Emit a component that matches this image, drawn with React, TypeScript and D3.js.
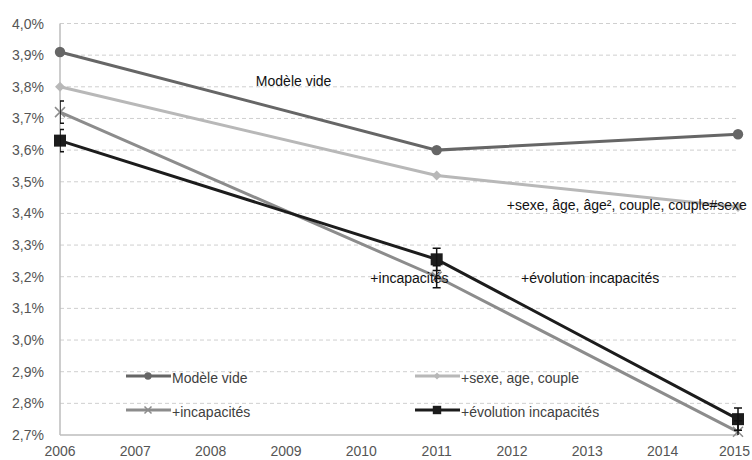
import React from "react";
import * as d3 from "d3";

const years = [2006, 2011, 2015];
const yTicks = [2.7, 2.8, 2.9, 3.0, 3.1, 3.2, 3.3, 3.4, 3.5, 3.6, 3.7, 3.8, 3.9, 4.0];
const xTicks = [2006, 2007, 2008, 2009, 2010, 2011, 2012, 2013, 2014, 2015];
const seriesNames = ["Modèle vide", "+sexe, age, couple", "+incapacités", "+évolution incapacités"];
const videValues = [3.91, 3.6, 3.65];
const sexeValues = [3.8, 3.52, 3.42];
const incapValues = [3.72, 3.2, 2.71];
const evolValues = [3.63, 3.255, 2.75];
const incapErr = [0.035, 0.035, 0.035];
const evolErr = [0.035, 0.035, 0.035];
const annotations = [
  { text: "Modèle vide", year: 2008.6, value: 3.802 },
  { text: "+sexe, âge, âge², couple, couple#sexe", year: 2011.93, value: 3.411 },
  { text: "+incapacités", year: 2010.12, value: 3.18 },
  { text: "+évolution incapacités", year: 2012.12, value: 3.18 },
];

const W = 752, H = 460;
const x = d3.scaleLinear().domain([2006, 2015]).range([60, 738]);
const y = d3.scaleLinear().domain([2.7, 4.0]).range([435, 23.5]);

const colors = ["#666666", "#b8b8b8", "#8c8c8c", "#1c1c1c"];
const font = "'Liberation Sans', Arial, sans-serif";

function Marker({ kind, cx, cy, color, s = 1 }: { kind: number; cx: number; cy: number; color: string; s?: number }) {
  if (kind === 0) return <circle cx={cx} cy={cy} r={5.2 * s} fill={color} />;
  if (kind === 1) {
    const r = 5 * s;
    return <path d={`M${cx},${cy - r}L${cx + r},${cy}L${cx},${cy + r}L${cx - r},${cy}Z`} fill={color} />;
  }
  if (kind === 2) {
    const r = 5 * s;
    return (
      <path d={`M${cx - r},${cy - r}L${cx + r},${cy + r}M${cx + r},${cy - r}L${cx - r},${cy + r}`} stroke={color} strokeWidth={1.5} fill="none" />
    );
  }
  const h = 6 * s;
  return <rect x={cx - h} y={cy - h} width={2 * h} height={2 * h} fill={color} />;
}

export default function App() {
  const line = d3
    .line<number>()
    .x((_, i) => x(years[i]))
    .y((d) => y(d));
  const series = [videValues, sexeValues, incapValues, evolValues];
  const errSeries = [
    { vals: incapValues, err: incapErr },
    { vals: evolValues, err: evolErr },
  ];
  const legendPos = [
    { lx: 126, ly: 376 },
    { lx: 415, ly: 376 },
    { lx: 126, ly: 410 },
    { lx: 415, ly: 410 },
  ];
  return (
    <svg width={W} height={H} style={{ position: "absolute", left: 0, top: 0, background: "#fff" }}>
      <defs>
        <clipPath id="plot">
          <rect x={60} y={0} width={700} height={435} />
        </clipPath>
      </defs>
      {yTicks.map((t) => (
        <g key={t}>
          {t > 2.7 && (
            <line x1={60} x2={738} y1={y(t)} y2={y(t)} stroke="#cfcfcf" strokeDasharray="4,3" strokeWidth={1} />
          )}
          <text x={44} y={y(t) + 5} textAnchor="end" fontFamily={font} fontSize={14} fill="#555">
            {t.toFixed(1).replace(".", ",") + "%"}
          </text>
        </g>
      ))}
      <line x1={60} x2={60} y1={23.5} y2={435} stroke="#bdbdbd" strokeWidth={1.5} />
      <line x1={60} x2={738} y1={435} y2={435} stroke="#bdbdbd" strokeWidth={1.5} />
      {xTicks.map((t) => (
        <text key={t} x={Math.min(x(t), 734.5)} y={456} textAnchor="middle" fontFamily={font} fontSize={14} fill="#555">
          {t}
        </text>
      ))}
      {series.map((vals, si) => (
        <path key={si} d={line(vals) || ""} fill="none" stroke={colors[si]} strokeWidth={3} />
      ))}
      {series.map((vals, si) =>
        vals.map((v, i) => <Marker key={si + "-" + i} kind={si} cx={x(years[i])} cy={y(v)} color={colors[si]} />)
      )}
      <g clipPath="url(#plot)">
        {errSeries.map((s, si) =>
          s.vals.map((v, i) => {
            const cx = x(years[i]);
            const y1 = y(v + s.err[i]);
            const y2 = y(v - s.err[i]);
            return (
              <path
                key={si + "e" + i}
                d={`M${cx},${y1}L${cx},${y2}M${cx - 4},${y1}L${cx + 4},${y1}M${cx - 4},${y2}L${cx + 4},${y2}`}
                stroke="#111"
                strokeWidth={1.5}
                fill="none"
              />
            );
          })
        )}
      </g>
      {annotations.map((a) => (
        <text key={a.text} x={x(a.year)} y={y(a.value)} fontFamily={font} fontSize={14} fill="#111">
          {a.text}
        </text>
      ))}
      {seriesNames.map((n, i) => {
        const { lx, ly } = legendPos[i];
        return (
          <g key={n}>
            <line x1={lx} x2={lx + 45} y1={ly} y2={ly} stroke={colors[i]} strokeWidth={3} />
            <Marker kind={i} cx={lx + 22} cy={ly} color={colors[i]} s={0.7} />
            <text x={lx + 46} y={ly + 6.5} fontFamily={font} fontSize={14} fill="#404040">
              {n}
            </text>
          </g>
        );
      })}
    </svg>
  );
}
